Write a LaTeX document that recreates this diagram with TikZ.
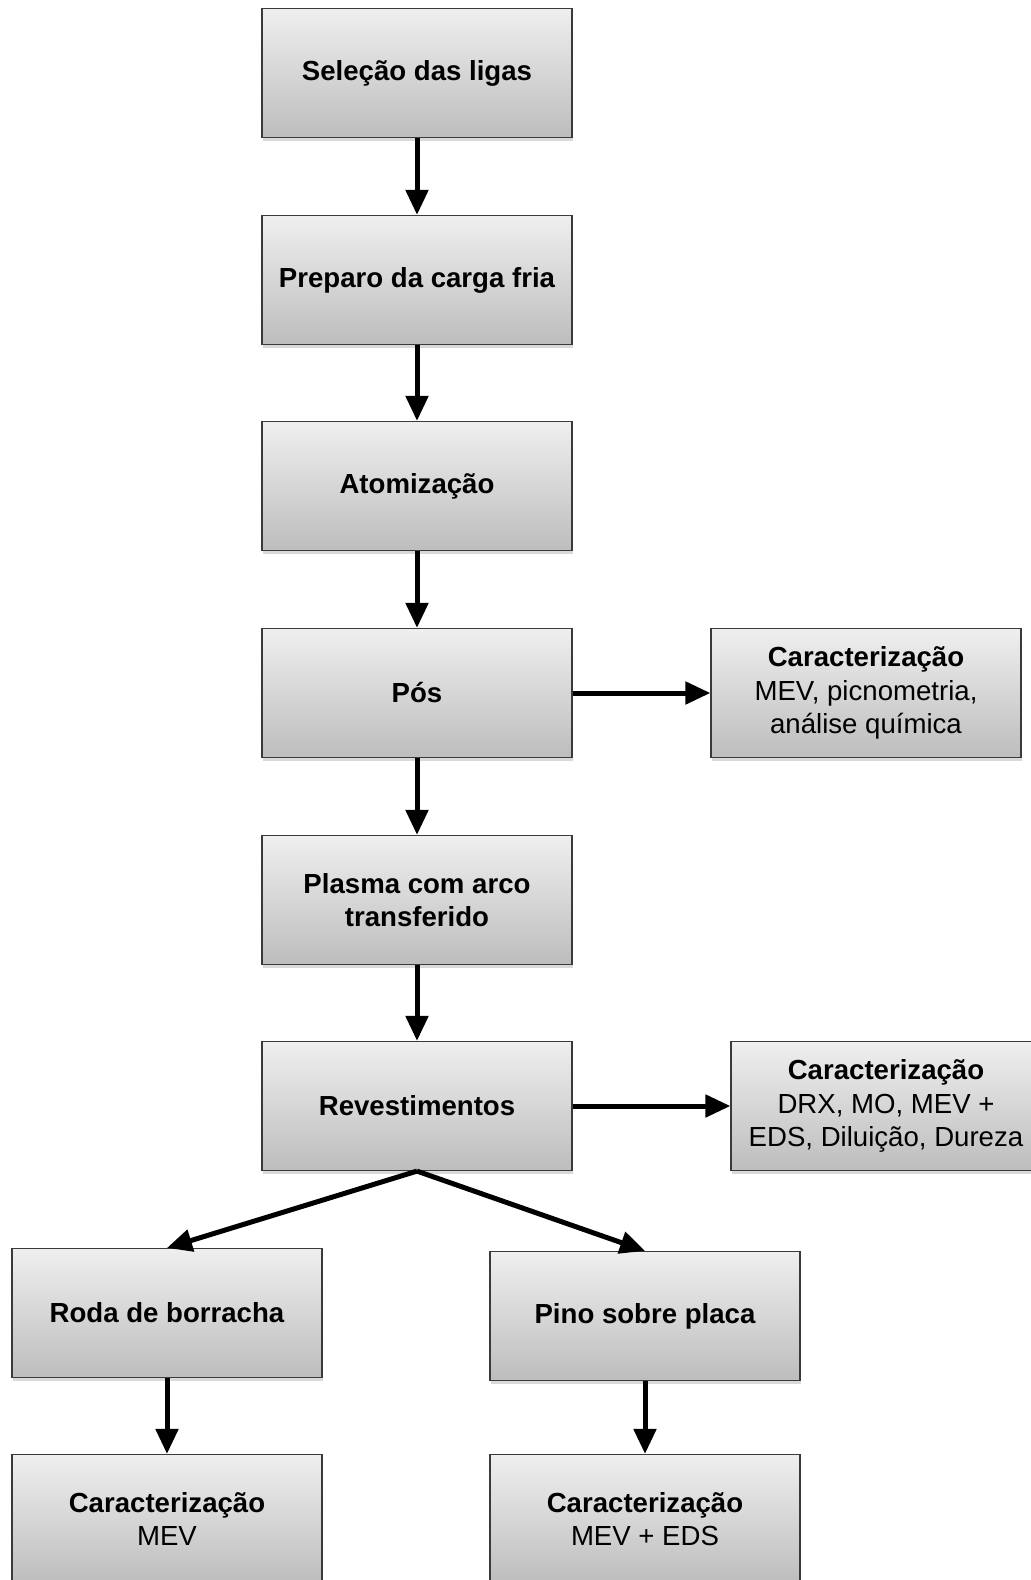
\documentclass[tikz,border=0pt]{standalone}
\usepackage{fontspec}
\setmainfont{Liberation Sans}
\usetikzlibrary{arrows.meta,shadows}
\definecolor{cinzaclaro}{HTML}{EFEFEF}
\definecolor{cinzaescuro}{HTML}{BDBDBD}
\definecolor{borda}{HTML}{3A3A3A}
\newcommand{\tamanho}{\fontsize{13.8pt}{16.6pt}\selectfont}

\begin{document}
\begin{tikzpicture}[x=0.5pt, y=-0.5pt,
    caixa/.style={draw=borda, line width=0.6pt, top color=cinzaclaro, bottom color=cinzaescuro,
      minimum width=155pt, minimum height=64.5pt, align=center, inner sep=2pt, font=\tamanho,
      drop shadow={shadow xshift=0.5pt, shadow yshift=-1.5pt, opacity=0.3}},
    etapa/.style={caixa, font=\tamanho\bfseries},
    seta/.style={line width=2.5pt, -{Triangle[length=12.5pt, width=11pt]}}]
  \useasboundingbox (0,0) rectangle (1030,1580);

  \node[etapa] (selecao) at (417,  73) {Seleção das ligas};
  \node[etapa] (preparo) at (417, 280) {Preparo da carga fria};
  \node[etapa] (atomiz)  at (417, 486) {Atomização};
  \node[etapa] (pos)     at (417, 693) {Pós};
  \node[etapa] (plasma)  at (417, 900) {Plasma com arco\\transferido};
  \node[etapa] (revest)  at (417,1106) {Revestimentos};

  \node[caixa] (carpos)  at (866, 693) {\textbf{Caracterização}\\MEV, picnometria,\\análise química};
  \node[caixa] (carrev)  at (886,1106) {\textbf{Caracterização}\\DRX, MO, MEV +\\EDS, Diluição, Dureza};

  \node[etapa] (roda)    at (167,1313) {Roda de borracha};
  \node[etapa] (pino)    at (645,1316) {Pino sobre placa};
  \node[caixa] (carroda) at (167,1519) {\textbf{Caracterização}\\MEV};
  \node[caixa] (carpino) at (645,1519) {\textbf{Caracterização}\\MEV + EDS};

  \draw[seta] (selecao) -- (preparo);
  \draw[seta] (preparo) -- (atomiz);
  \draw[seta] (atomiz) -- (pos);
  \draw[seta] (pos) -- (plasma);
  \draw[seta] (plasma) -- (revest);
  \draw[seta] (pos) -- (carpos);
  \draw[seta] (revest) -- (carrev);
  \draw[seta] (revest.south) -- (roda.north);
  \draw[seta] (revest.south) -- (pino.north);
  \draw[seta] (roda) -- (carroda);
  \draw[seta] (pino) -- (carpino);

\end{tikzpicture}
\end{document}
